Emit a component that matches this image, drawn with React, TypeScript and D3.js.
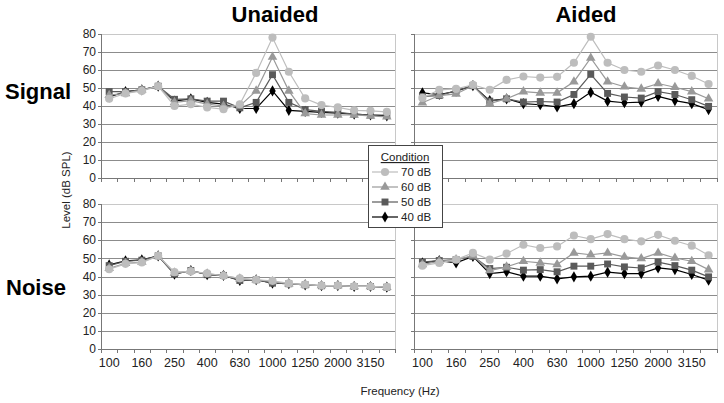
import React from "react";
import * as d3 from "d3";

const categories = ["100","125","160","200","250","315","400","500","630","800","1000","1120","1250","1600","2000","2500","3150","4000"];
const shownTicks = ["100","160","250","400","630","1000","1250","2000","3150"];
const yTicks = [0,10,20,30,40,50,60,70,80];
const conditions = ["70 dB","60 dB","50 dB","40 dB"];

// Unaided - Signal
const unaidedSignal70 = [44,47,48.4,51,40,41,39.2,38.2,41,58.4,78,59,44.2,40.5,39.2,37.6,37.3,36.7];
const unaidedSignal60 = [46,47,49,51,42,43,41,40,40,48.4,67.2,48.4,35.8,35,35,35,34.5,34];
const unaidedSignal50 = [48,48,49,51,43.7,44,42.7,42.7,39,42,57.4,42,38,37,36.5,35.5,35,35];
const unaidedSignal40 = [45,48,49,51,42.7,44,42,41,38.6,38.6,48.4,37.6,37,36.5,36,35.5,35,34.5];

// Aided - Signal
const aidedSignal70 = [44.5,49,49.5,51.8,49,54.5,56.4,55.8,56.2,64,78.5,64,60,59,62.5,60,56.7,52.2];
const aidedSignal60 = [41.8,45.8,46.7,51.3,41.3,44,48,47.3,47.3,53.5,66.7,53.5,50.7,49.5,52.5,50.4,48,44];
const aidedSignal50 = [45.3,45.8,48.5,51.3,42.7,44,42.2,42.5,42.2,46.4,57.6,47,45,44.4,48,46.4,43.5,39.8];
const aidedSignal40 = [47.3,46.4,48.2,51.3,43,44,41.3,40.7,39.5,41.3,47.6,42.7,41.8,42.2,45.3,43,41.3,38];

// Unaided - Noise
const unaidedNoise70 = [44,47,47.7,51.4,42.4,42.8,41.8,40.4,39,38.2,37.6,36.2,35.6,35,35,34.6,34.5,34.2];
const unaidedNoise60 = [44.5,47.3,48,51.4,42,43,41.5,40.5,38.8,38.2,37.2,36,35.5,35,35,34.5,34.5,34.1];
const unaidedNoise50 = [46,48.4,49,51.4,41.3,43.3,41,40.6,37.8,38.2,36.3,36,35.4,34.9,35,34.5,34.5,34.1];
const unaidedNoise40 = [46.4,48.6,49.2,51.4,41.3,43.3,41,40.6,37.8,38.2,36.3,36,35.4,34.9,35,34.5,34.5,34.1];

// Aided - Noise
const aidedNoise70 = [46,47.5,49.3,53,49.3,52.6,57.5,55.7,56.6,62.6,60.6,63.4,60.6,59.4,63,59.7,57,51.7];
const aidedNoise60 = [46.6,48.4,49.3,51.5,43.3,45.3,48.4,47.5,46.6,53,52,53,50.8,49.9,53,50.2,48.4,43.8];
const aidedNoise50 = [47.9,48.8,49.3,51.1,44.4,45.1,43.5,43.8,42.6,45.7,45.7,46.9,45.3,44.7,47.9,46,43.5,39.8];
const aidedNoise40 = [47.5,48.8,47.5,51.1,41.6,42.6,40.2,40.2,38.7,39.8,40.2,42.4,41.6,41.6,44.7,43.8,41.1,38];

const colors: Record<string,string> = {"70 dB":"#bdbdbd","60 dB":"#999999","50 dB":"#5a5a5a","40 dB":"#000000"};
const symbols: Record<string, any> = {"70 dB":d3.symbolCircle,"60 dB":d3.symbolTriangle,"50 dB":d3.symbolSquare,"40 dB":d3.symbolDiamond};
const symSize: Record<string, number> = {"70 dB":52,"60 dB":40,"50 dB":48,"40 dB":36};

const FONT = "'Liberation Sans', Arial, sans-serif";

type PanelProps = {
  x0: number; x1: number; y0: number; y1: number;
  series: Record<string, number[]>;
  yLabels: boolean; xLabels: boolean;
};

function Panel({ x0, x1, y0, y1, series, yLabels, xLabels }: PanelProps) {
  const x = d3.scaleBand<string>().domain(categories).range([x0, x1]).padding(0);
  const y = d3.scaleLinear().domain([0, 80]).range([y1, y0]);
  const cx = (c: string) => (x(c) as number) + x.bandwidth() / 2;
  const line = d3.line<number>().x((_, i) => cx(categories[i])).y((d) => y(d));
  const order = ["40 dB", "50 dB", "60 dB", "70 dB"];
  return (
    <g>
      {yTicks.map((t) => (
        <line key={"g" + t} x1={x0} x2={x1} y1={Math.round(y(t)) + 0.5} y2={Math.round(y(t)) + 0.5}
          stroke={t === 80 ? "#c8c8c8" : "#8c8c8c"} strokeWidth={1} />
      ))}
      <line x1={x1 + 0.5} x2={x1 + 0.5} y1={y0} y2={y1} stroke="#c8c8c8" />
      <line x1={x0 + 0.5} x2={x0 + 0.5} y1={y0} y2={y1} stroke="#777" />
      <line x1={x0} x2={x1} y1={Math.round(y1) + 0.5} y2={Math.round(y1) + 0.5} stroke="#777" />
      {yTicks.map((t) => (
        <line key={"yt" + t} x1={x0 - 3} x2={x0} y1={Math.round(y(t)) + 0.5} y2={Math.round(y(t)) + 0.5} stroke="#777" />
      ))}
      {categories.map((c) => (
        <line key={"xt" + c} x1={Math.round(x(c) as number) + 0.5} x2={Math.round(x(c) as number) + 0.5}
          y1={y1} y2={y1 + 4} stroke="#777" />
      ))}
      <line x1={x1 + 0.5} x2={x1 + 0.5} y1={y1} y2={y1 + 4} stroke="#777" />
      {yLabels && yTicks.map((t) => (
        <text key={"yl" + t} x={x0 - 5} y={y(t)} dy="0.35em" textAnchor="end" fontSize={12} fill="#222" fontFamily={FONT}>{t}</text>
      ))}
      {xLabels && categories.filter((c) => shownTicks.includes(c)).map((c) => (
        <text key={"xl" + c} x={cx(c)} y={y1 + 18} textAnchor="middle" fontSize={12.5} fill="#222" fontFamily={FONT}>{c}</text>
      ))}
      {order.map((k) => (
        <g key={k}>
          <path d={line(series[k]) as string} fill="none" stroke={colors[k]} strokeWidth={1.2} />
          {series[k].map((v, i) => (
            <path key={i} d={d3.symbol().type(symbols[k]).size(symSize[k])() as string}
              transform={`translate(${cx(categories[i])},${y(v)})`} fill={colors[k]} />
          ))}
        </g>
      ))}
    </g>
  );
}

export default function App() {
  const W = 724, H = 403;
  const lx0 = 101, lx1 = 395, rx0 = 414, rx1 = 717;
  const ty0 = 34, ty1 = 178, by0 = 204, by1 = 349;
  const legX = 368, legY = 145;
  return (
    <svg width={W} height={H} style={{ position: "absolute", left: 0, top: 0, background: "#fff" }}>
      <rect width={W} height={H} fill="#fff" />
      <text x={275} y={22} textAnchor="middle" fontSize={22} fontWeight="bold" fontFamily={FONT}>Unaided</text>
      <text x={586} y={22} textAnchor="middle" fontSize={22} fontWeight="bold" fontFamily={FONT}>Aided</text>
      <text x={5} y={99} fontSize={22} fontWeight="bold" fontFamily={FONT}>Signal</text>
      <text x={6} y={295} fontSize={22} fontWeight="bold" fontFamily={FONT}>Noise</text>
      <text transform={`translate(70,190) rotate(-90)`} textAnchor="middle" fontSize={11.5} fill="#222" fontFamily={FONT}>Level (dB SPL)</text>
      <text x={400} y={395} textAnchor="middle" fontSize={11.5} fill="#222" fontFamily={FONT}>Frequency (Hz)</text>
      <Panel x0={lx0} x1={lx1} y0={ty0} y1={ty1} yLabels={true} xLabels={false}
        series={{ "70 dB": unaidedSignal70, "60 dB": unaidedSignal60, "50 dB": unaidedSignal50, "40 dB": unaidedSignal40 }} />
      <Panel x0={rx0} x1={rx1} y0={ty0} y1={ty1} yLabels={false} xLabels={false}
        series={{ "70 dB": aidedSignal70, "60 dB": aidedSignal60, "50 dB": aidedSignal50, "40 dB": aidedSignal40 }} />
      <Panel x0={lx0} x1={lx1} y0={by0} y1={by1} yLabels={true} xLabels={true}
        series={{ "70 dB": unaidedNoise70, "60 dB": unaidedNoise60, "50 dB": unaidedNoise50, "40 dB": unaidedNoise40 }} />
      <Panel x0={rx0} x1={rx1} y0={by0} y1={by1} yLabels={false} xLabels={true}
        series={{ "70 dB": aidedNoise70, "60 dB": aidedNoise60, "50 dB": aidedNoise50, "40 dB": aidedNoise40 }} />
      <g>
        <rect x={legX + 0.5} y={legY + 0.5} width={74} height={82} fill="#fff" stroke="#444" strokeWidth={1} />
        <text x={legX + 37} y={legY + 16} textAnchor="middle" fontSize={11.5} fill="#222" fontFamily={FONT} textDecoration="underline">Condition</text>
        {conditions.map((k, i) => {
          const yy = legY + 27 + i * 15;
          return (
            <g key={k}>
              <line x1={legX + 4} x2={legX + 30} y1={yy} y2={yy} stroke={colors[k]} strokeWidth={1.2} />
              <path d={d3.symbol().type(symbols[k]).size(symSize[k])() as string} transform={`translate(${legX + 17},${yy})`} fill={colors[k]} />
              <text x={legX + 33} y={yy} dy="0.35em" fontSize={11.5} fill="#222" fontFamily={FONT}>{k}</text>
            </g>
          );
        })}
      </g>
    </svg>
  );
}
